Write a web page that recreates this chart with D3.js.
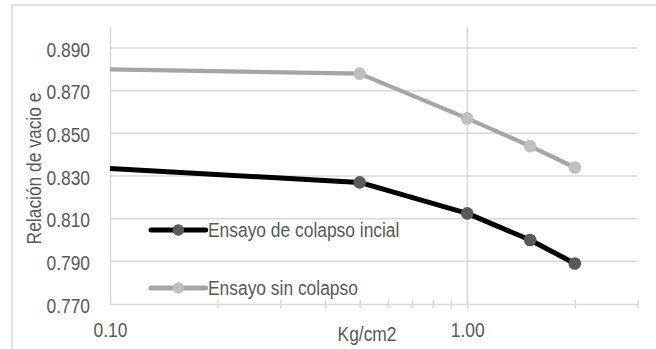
<!DOCTYPE html>
<html>
<head>
<meta charset="utf-8">
<script src="https://cdn.jsdelivr.net/npm/d3@7"></script>
<style>
  body { margin: 0; background: #fff; }
  text { font-family: "Liberation Sans", Arial, sans-serif; fill: #595959; }
</style>
</head>
<body>
<div id="chart"></div>
<script>
// datos (presión Kg/cm2 vs relación de vacíos)
var cargas = [0.1, 0.5, 1.0, 1.5, 2.0];
var conColapso = [0.8335, 0.827, 0.8125, 0.800, 0.789];
var sinColapso = [0.880, 0.878, 0.857, 0.844, 0.834];
var nombres = ["Ensayo de colapso incial", "Ensayo sin colapso"];
var yTicks = [0.770, 0.790, 0.810, 0.830, 0.850, 0.870, 0.890];
var xLabels = [0.1, 1.0];
var xMinor = [0.2, 0.3, 0.4, 0.5, 0.6, 0.7, 0.8, 0.9, 1.0, 2.0, 3.0];

var W = 656, H = 349;
var FS = 20, SX = 0.87; // fuente algo angosta

var svg = d3.select("#chart").append("svg")
  .attr("width", W).attr("height", H);

// borde del gráfico (cortado a la derecha y abajo)
svg.append("rect")
  .attr("x", 12).attr("y", 5)
  .attr("width", 700).attr("height", 400)
  .attr("fill", "none").attr("stroke", "#d9d9d9").attr("stroke-width", 1.5);

var x = d3.scaleLog().domain([0.1, 3]).range([110, 637.7]);
var y = d3.scaleLinear().domain([0.77, 0.90]).range([304, 26.7]);

function angosto(sel) {
  sel.attr("font-size", FS)
    .attr("transform", "scale(" + SX + ",1)")
    .attr("x", function() { return (+d3.select(this).attr("x") || 0) / SX; });
}

// gridlines horizontales
svg.append("g").selectAll("line").data(yTicks.slice(1)).enter().append("line")
  .attr("x1", x(0.1)).attr("x2", x(3))
  .attr("y1", function(d) { return y(d); }).attr("y2", function(d) { return y(d); })
  .attr("stroke", "#d9d9d9").attr("stroke-width", 1.5);

// gridline vertical mayor en 1.00
svg.append("line")
  .attr("x1", x(1)).attr("x2", x(1))
  .attr("y1", y(0.9)).attr("y2", y(0.77))
  .attr("stroke", "#d9d9d9").attr("stroke-width", 1.5);

// eje Y
var gy = svg.append("g")
  .attr("transform", "translate(" + x(0.1) + ",0)")
  .call(d3.axisLeft(y).tickValues(yTicks).tickFormat(d3.format(".3f")).tickSize(0).tickPadding(20));
gy.select(".domain").attr("stroke", "#d9d9d9").attr("stroke-width", 1.5);
gy.selectAll("text").attr("fill", "#595959").attr("dy", "0.4em").call(angosto);

// eje X: marcas
var gxt = svg.append("g")
  .attr("transform", "translate(0," + y(0.77) + ")")
  .call(d3.axisBottom(x).tickValues(xMinor).tickFormat("").tickSizeOuter(0));
gxt.select(".domain").attr("stroke", "#d9d9d9").attr("stroke-width", 1.5);
gxt.selectAll(".tick line").attr("y1", -4.5).attr("y2", 4.5)
  .attr("stroke", "#d9d9d9").attr("stroke-width", 1.5);

// eje X: etiquetas
var gx = svg.append("g")
  .attr("transform", "translate(0," + y(0.77) + ")")
  .call(d3.axisBottom(x).tickValues(xLabels).tickFormat(d3.format(".2f")).tickSize(0));
gx.select(".domain").remove();
gx.selectAll("text").attr("fill", "#595959").attr("y", 32.7).attr("dy", null).call(angosto);

// títulos de ejes
svg.append("text")
  .attr("transform", "translate(367,341) scale(" + SX + ",1)")
  .attr("text-anchor", "middle").attr("font-size", FS)
  .text("Kg/cm2");
svg.append("text")
  .attr("transform", "translate(41,168.5) rotate(-90) scale(" + SX + ",1)")
  .attr("text-anchor", "middle").attr("font-size", FS)
  .text("Relación de vacio e");

// series
var series = [
  { nombre: nombres[0], valores: conColapso, linea: "#000000", marca: "#595959", ancho: 5, ly: 230 },
  { nombre: nombres[1], valores: sinColapso, linea: "#a5a5a5", marca: "#bfbfbf", ancho: 4.2, ly: 288 }
];

var line = d3.line()
  .x(function(d) { return x(d[0]); })
  .y(function(d) { return y(d[1]); });

series.slice().reverse().forEach(function(s) {
  var pts = cargas.map(function(c, i) { return [c, s.valores[i]]; });
  svg.append("path").datum(pts)
    .attr("d", line)
    .attr("fill", "none").attr("stroke", s.linea).attr("stroke-width", s.ancho)
    .attr("stroke-linejoin", "round");
  // el primer punto cae sobre el eje y no muestra marcador
  svg.append("g").selectAll("circle").data(pts.filter(function(p) { return p[0] > 0.1; }))
    .enter().append("circle")
    .attr("cx", function(d) { return x(d[0]); })
    .attr("cy", function(d) { return y(d[1]); })
    .attr("r", 6.3).attr("fill", s.marca);
});

// leyenda
series.forEach(function(s) {
  var g = svg.append("g").attr("transform", "translate(151," + s.ly + ")");
  g.append("line").attr("x1", 0).attr("x2", 54.7)
    .attr("stroke", s.linea).attr("stroke-width", 5).attr("stroke-linecap", "round");
  g.append("circle").attr("cx", 27.3).attr("r", 5.8).attr("fill", s.marca);
  g.append("text")
    .attr("transform", "translate(57,7) scale(" + SX + ",1)")
    .attr("font-size", FS)
    .text(s.nombre);
});
</script>
</body>
</html>
